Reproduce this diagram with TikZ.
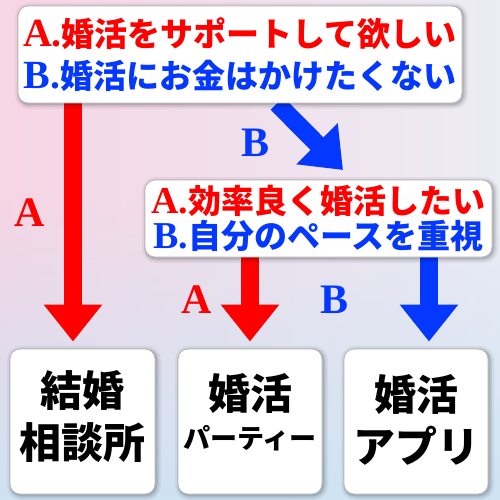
\documentclass[tikz,border=0pt]{standalone}
\usepackage{fontspec}
\newfontfamily\jp{Noto Sans CJK JP}
\newfontfamily\lat{Liberation Serif}
\usetikzlibrary{arrows.meta,fadings}
\definecolor{cred}{HTML}{FF0000}
\definecolor{cblue}{HTML}{0538FF}
\definecolor{pinkbg}{HTML}{F6D5E5}
\definecolor{lavbg}{HTML}{ECECF4}
\definecolor{bluebg}{HTML}{CFE3F3}
\pgfdeclarelayer{bg}
\pgfdeclarelayer{arr}
\pgfsetlayers{bg,arr,main}
\newcommand\latl[1]{{\lat\fontsize{40}{42}\selectfont #1}}
\newcommand\latm[1]{{\lat\fontsize{38}{35}\selectfont #1}}
\begin{document}
\begin{tikzpicture}[x=1pt,y=-1pt,
  box/.style={draw=gray!55, line width=0.8pt, fill=white, rounded corners=10pt, inner sep=0pt,
    preaction={draw=black, line width=9pt, opacity=0.05, transform canvas={xshift=1.5pt,yshift=-1.5pt}},
    preaction={draw=black, line width=5pt, opacity=0.08, transform canvas={xshift=1.5pt,yshift=-1.5pt}},
    preaction={draw=black, line width=2.5pt, opacity=0.12, transform canvas={xshift=1pt,yshift=-1pt}}},
  qtop/.style={font=\fontsize{33}{42}\selectfont\bfseries\jp, align=center},
  qmid/.style={font=\fontsize{33}{35.5}\selectfont\bfseries\jp, align=center},
  ans/.style={font=\fontsize{42}{52}\selectfont\bfseries\jp, align=center, inner sep=0pt},
  lab/.style={font=\fontsize{42}{42}\selectfont\bfseries\lat, inner sep=0pt},
  redarrow/.style={draw=cred, line width=18pt, -{Triangle[width=56pt,length=37pt]}},
  bluearrow/.style={draw=cblue, line width=18pt, -{Triangle[width=56pt,length=37pt]}}
]
\useasboundingbox (0,0) rectangle (500,500);
\begin{pgfonlayer}{bg}
  \shade[left color=pinkbg, right color=lavbg] (0,0) rectangle (500,500);
  \fill[bluebg, path fading=north] (0,200) rectangle (500,500);
\end{pgfonlayer}

% question boxes
\node[box, qtop, minimum width=444pt, minimum height=97pt] (q1) at (240,54.5)
  {\textcolor{cred}{\latl{A.}\jp 婚活をサポートして欲しい}\\\textcolor{cblue}{\latl{B.}\jp 婚活にお金はかけたくない}};
\node[box, qmid, minimum width=347pt, minimum height=77pt] (q2) at (318.5,218.5)
  {\textcolor{cred}{\latm{A.}\jp 効率良く婚活したい}\\\textcolor{cblue}{\latm{B.}\jp 自分のペースを重視}};

% answer boxes
\node[box, minimum width=145pt, minimum height=145pt] (r1) at (82.5,421.5) {};
\node[box, minimum width=144pt, minimum height=145pt] (r2) at (250,421.5) {};
\node[box, minimum width=144pt, minimum height=145pt] (r3) at (416,421.5) {};
\node[ans] (t1) at (82.5,417) {結婚\\相談所};
\node[ans] (t2) at (250,412) {婚活\\[-13pt]{\fontsize{27}{30}\selectfont パーティー}};
\node[ans] (t3) at (416,419.5) {婚活\\アプリ};

% labels
\node[lab, text=cred] (la1) at (30,213) {A};
\node[lab, text=cblue] (lb1) at (256,143) {B};
\node[lab, text=cred] (la2) at (197,300) {A};
\node[lab, text=cblue] (lb2) at (335,300) {B};

% arrows
\coordinate (a1) at ([xshift=-9.5pt]r1.north);
\coordinate (a3) at ([xshift=13pt]r3.north);
\coordinate (bs) at (277,0);
\coordinate (bt) at (343,170);
\begin{pgfonlayer}{arr}
  \draw[redarrow] (a1 |- q1.south) -- ([yshift=7pt]a1);
  \draw[bluearrow] (q1.south -| bs) -- (bt);
  \draw[redarrow] (r2.north |- q2.south) -- ([yshift=7pt]r2.north);
  \draw[bluearrow] (a3 |- q2.south) -- ([yshift=7pt]a3);
\end{pgfonlayer}
\end{tikzpicture}
\end{document}
